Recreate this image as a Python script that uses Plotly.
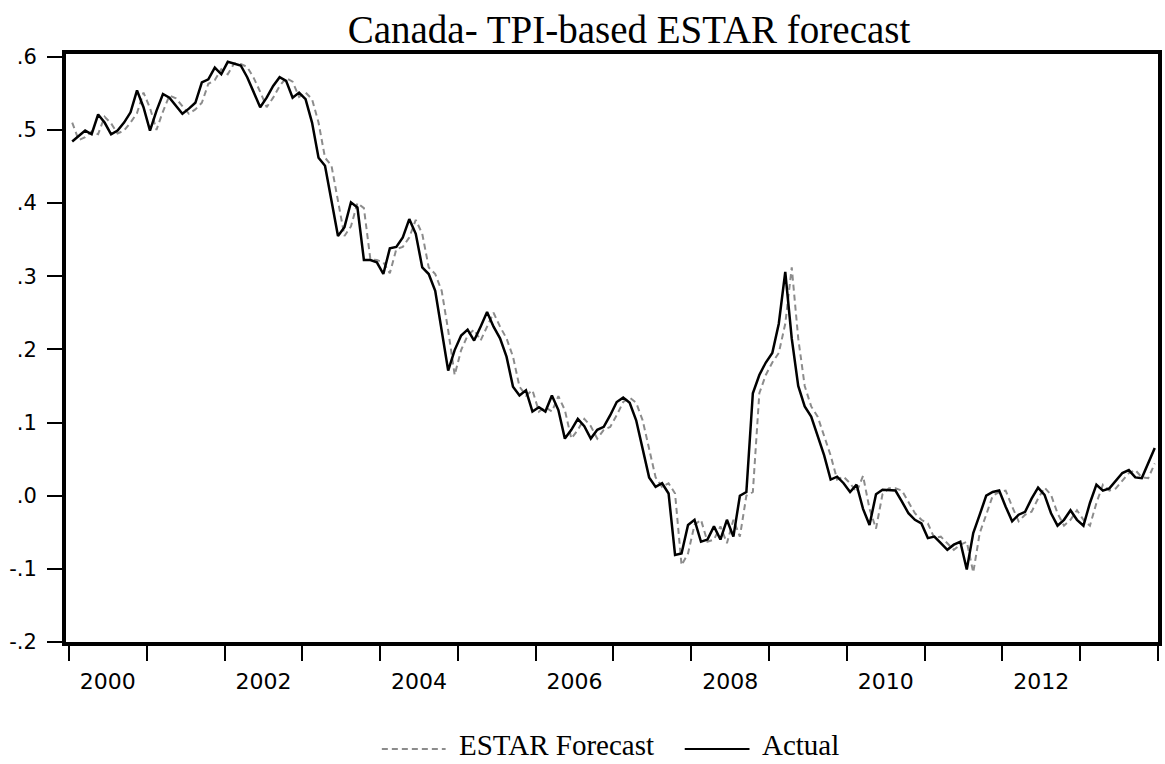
import plotly.graph_objects as go

# Monthly observations, 2000M01 .. 2013M12
start_year = 2000
actual = [
    0.484, 0.492, 0.499, 0.494, 0.521, 0.510, 0.494, 0.499, 0.510, 0.524, 0.554, 0.531,
    0.499, 0.526, 0.549, 0.544, 0.533, 0.522, 0.529, 0.537, 0.565, 0.569, 0.585, 0.576,
    0.593, 0.591, 0.588, 0.572, 0.552, 0.531, 0.544, 0.560, 0.572, 0.567, 0.544, 0.551,
    0.542, 0.510, 0.462, 0.451, 0.403, 0.355, 0.367, 0.401, 0.394, 0.322, 0.322, 0.319,
    0.303, 0.338, 0.340, 0.353, 0.378, 0.358, 0.312, 0.303, 0.280, 0.226, 0.171, 0.199,
    0.219, 0.227, 0.212, 0.231, 0.251, 0.231, 0.215, 0.190, 0.149, 0.137, 0.144, 0.115,
    0.121, 0.115, 0.137, 0.117, 0.078, 0.090, 0.105, 0.095, 0.078, 0.090, 0.094, 0.110,
    0.128, 0.134, 0.127, 0.103, 0.062, 0.025, 0.012, 0.017, 0.003, -0.081, -0.079, -0.040,
    -0.033, -0.063, -0.060, -0.042, -0.060, -0.033, -0.056, 0.000, 0.005, 0.140, 0.165, 0.182,
    0.195, 0.235, 0.306, 0.215, 0.150, 0.122, 0.108, 0.082, 0.055, 0.022, 0.026, 0.017,
    0.005, 0.015, -0.018, -0.040, 0.002, 0.008, 0.008, 0.007, -0.008, -0.024, -0.033, -0.038,
    -0.058, -0.056, -0.065, -0.074, -0.067, -0.063, -0.101, -0.051, -0.026, 0.000, 0.005, 0.007,
    -0.015, -0.035, -0.026, -0.022, -0.004, 0.011, 0.001, -0.024, -0.041, -0.033, -0.020, -0.033,
    -0.041, -0.010, 0.015, 0.007, 0.010, 0.021, 0.031, 0.035, 0.025, 0.024, 0.044, 0.065,
]
forecast = [
    0.510, 0.486, 0.490, 0.498, 0.494, 0.518, 0.509, 0.495, 0.499, 0.510, 0.523, 0.551,
    0.530, 0.500, 0.525, 0.547, 0.543, 0.532, 0.522, 0.528, 0.537, 0.563, 0.568, 0.583,
    0.576, 0.591, 0.590, 0.586, 0.571, 0.552, 0.531, 0.544, 0.560, 0.571, 0.566, 0.545,
    0.551, 0.542, 0.510, 0.462, 0.451, 0.403, 0.355, 0.368, 0.400, 0.393, 0.323, 0.322,
    0.319, 0.304, 0.337, 0.340, 0.353, 0.377, 0.358, 0.312, 0.303, 0.280, 0.226, 0.165,
    0.199, 0.219, 0.227, 0.212, 0.231, 0.250, 0.231, 0.215, 0.190, 0.149, 0.137, 0.144,
    0.115, 0.121, 0.115, 0.136, 0.117, 0.078, 0.090, 0.105, 0.095, 0.078, 0.090, 0.094,
    0.110, 0.128, 0.134, 0.127, 0.103, 0.062, 0.025, 0.012, 0.017, 0.003, -0.095, -0.079,
    -0.040, -0.033, -0.063, -0.060, -0.042, -0.065, -0.033, -0.056, 0.000, 0.005, 0.140, 0.165,
    0.182, 0.195, 0.235, 0.312, 0.215, 0.150, 0.122, 0.108, 0.082, 0.055, 0.022, 0.026,
    0.017, 0.005, 0.027, -0.018, -0.045, 0.002, 0.010, 0.010, 0.007, -0.008, -0.024, -0.033,
    -0.038, -0.058, -0.056, -0.065, -0.074, -0.067, -0.063, -0.105, -0.051, -0.026, 0.000, 0.005,
    0.007, -0.015, -0.035, -0.026, -0.022, -0.004, 0.011, 0.001, -0.024, -0.041, -0.033, -0.020,
    -0.033, -0.041, -0.010, 0.015, 0.007, 0.010, 0.021, 0.031, 0.035, 0.025, 0.024, 0.044,
]
x_label_years = [2000, 2002, 2004, 2006, 2008, 2010, 2012]
y_tick_vals = [0.6, 0.5, 0.4, 0.3, 0.2, 0.1, 0.0, -0.1, -0.2]
y_tick_text = [".6", ".5", ".4", ".3", ".2", ".1", ".0", "-.1", "-.2"]

months = [start_year + (i + 0.5) / 12 for i in range(len(actual))]

SERIF = "Liberation Serif, Times New Roman, serif"
SANS = "DejaVu Sans, Verdana, sans-serif"

fig = go.Figure()
fig.add_trace(go.Scatter(
    x=months, y=forecast, mode="lines", name="ESTAR Forecast",
    line=dict(color="#8c8c8c", width=2, dash="6px,4px"), showlegend=False,
))
fig.add_trace(go.Scatter(
    x=months, y=actual, mode="lines", name="Actual",
    line=dict(color="black", width=2.5), showlegend=False,
))

W, H = 1165, 764
ml, mr, mt, mb = 66, 3, 54, 122
pw, ph = W - ml - mr, H - mt - mb

def px(xp):
    return (xp - ml) / pw

def py(yp):
    return (H - mb - yp) / ph

# manual legend
leg_y = 749
fig.add_shape(type="line", xref="paper", yref="paper",
              x0=px(383), x1=px(447), y0=py(leg_y), y1=py(leg_y),
              line=dict(color="#8c8c8c", width=2, dash="6px,4px"))
fig.add_shape(type="line", xref="paper", yref="paper",
              x0=px(687), x1=px(752), y0=py(leg_y), y1=py(leg_y),
              line=dict(color="black", width=2))
fig.add_annotation(text="ESTAR Forecast", xref="paper", yref="paper",
                   x=px(458), y=py(745), xanchor="left", yanchor="middle",
                   showarrow=False, font=dict(family=SERIF, size=29, color="black"))
fig.add_annotation(text="Actual", xref="paper", yref="paper",
                   x=px(763), y=py(745), xanchor="left", yanchor="middle",
                   showarrow=False, font=dict(family=SERIF, size=29, color="black"))

fig.update_layout(
    width=W, height=H,
    margin=dict(l=ml, r=mr, t=mt, b=mb, pad=0),
    paper_bgcolor="white", plot_bgcolor="white",
    title=dict(text="Canada- TPI-based ESTAR forecast", x=629 / W, xanchor="center",
               y=1 - 29 / H, yanchor="middle", yref="container", xref="container",
               font=dict(family=SERIF, size=39, color="black")),
    showlegend=False,
)
fig.update_xaxes(
    range=[1999.962, 2014.0],
    tickmode="array", tickvals=[y + 0.5 for y in x_label_years],
    ticktext=[str(y) for y in x_label_years],
    ticks="", ticklabelstandoff=17,
    tickfont=dict(family=SANS, size=22, color="black"),
    showgrid=False, zeroline=False,
    showline=True, linecolor="black", linewidth=4, mirror=True,
    minor=dict(tick0=2000, dtick=1, ticks="outside", ticklen=15, tickwidth=2,
               tickcolor="black", showgrid=False),
)
fig.update_yaxes(
    range=[-0.2, 0.6037],
    tickmode="array", tickvals=y_tick_vals, ticktext=y_tick_text,
    ticks="outside", ticklen=15, tickwidth=2, tickcolor="black",
    ticklabelstandoff=6,
    tickfont=dict(family=SANS, size=21, color="black"),
    showgrid=False, zeroline=False,
    showline=True, linecolor="black", linewidth=4, mirror=True,
)

fig.write_html("out.html")
